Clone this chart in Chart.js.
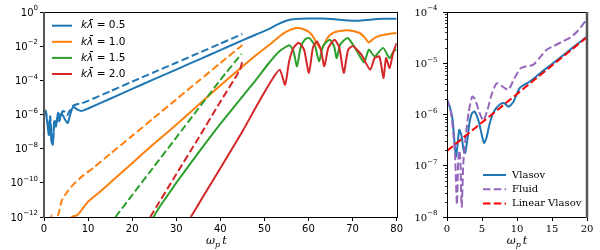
<!DOCTYPE html>
<html lang="en">
<head>
<meta charset="utf-8">
<title>Perturbation growth, Vlasov vs fluid</title>
<script src="https://cdn.jsdelivr.net/npm/chart.js"></script>
<style>
    html, body { margin: 0; padding: 0; background: #fff; }
    #wrap { position: relative; width: 600px; height: 250px; }
    #leftChart { position: absolute; left: 0; top: 0; }
    #rightChart { position: absolute; left: 400px; top: 0; }
</style>
</head>
<body>
<div id="wrap">
    <canvas id="leftChart" width="405" height="250"></canvas>
    <canvas id="rightChart" width="200" height="250"></canvas>
</div>

<script>
// ---- left panel data (values are log10 of the amplitude) ----
// k*lambda = 0.5, simulation (solid) and linear theory (dashed)
const tK05 = [0, 0.4, 0.8, 1.1, 1.4, 1.7, 2.0, 2.3, 2.7, 3.1, 3.5, 3.9, 4.4, 4.9, 5.4, 6.0, 6.6, 7.5, 8.5, 10, 15, 20, 25, 30, 35, 40, 45, 48, 51, 53, 55.5, 57, 60, 63, 66, 68, 70, 72, 74, 77, 80];
const eK05 = [-5.72, -5.85, -6.6, -7.2, -6.3, -7.6, -7.77, -6.4, -6.7, -6.05, -6.4, -5.95, -6.1, -6.35, -6.5, -5.95, -5.55, -5.7, -5.8, -5.65, -5.08, -4.5, -3.93, -3.37, -2.8, -2.23, -1.66, -1.33, -1.0, -0.72, -0.47, -0.41, -0.38, -0.38, -0.43, -0.48, -0.51, -0.5, -0.45, -0.4, -0.39];
const tK05lin = [0, 0.4, 0.8, 1.1, 1.4, 1.7, 2.0, 2.4, 2.8, 3.2, 3.7, 4.2, 4.7, 5.2, 5.8, 6.5, 7.5, 8.5, 10, 15, 20, 25, 30, 35, 40, 45];
const eK05lin = [-5.72, -5.8, -6.4, -6.9, -6.1, -7.3, -7.67, -6.3, -6.5, -5.9, -6.2, -5.8, -5.85, -6.05, -5.8, -5.5, -5.4, -5.35, -5.2, -4.64, -4.08, -3.52, -2.97, -2.41, -1.85, -1.29];

// k*lambda = 1.0
const tK10 = [5.5, 6.5, 7.5, 8.5, 10, 12.5, 15, 20, 25, 30, 35, 40, 45, 48, 51, 53.4, 55, 57.2, 58.6, 60, 61, 62.9, 64.2, 65.5, 67.5, 69.3, 71.6, 72.8, 73.7, 74.8, 76.1, 78, 80];
const eK10 = [-12.2, -11.97, -11.9, -11.6, -11.1, -10.57, -10.0, -8.85, -7.7, -6.6, -5.45, -4.3, -3.2, -2.55, -1.95, -1.43, -1.15, -0.94, -0.98, -1.15, -1.43, -2.2, -1.55, -1.23, -1.1, -1.08, -1.23, -1.5, -1.78, -1.55, -1.39, -1.3, -1.23];
const tK10lin = [1.3, 1.8, 2.3, 2.8, 3.3, 4.1, 5.5, 7, 9, 11.3, 15, 20, 25, 30, 35, 40, 45];
const eK10lin = [-12.3, -11.9, -12.1, -12.3, -11.8, -11.0, -10.45, -10.0, -9.55, -9.1, -8.31, -7.25, -6.18, -5.12, -4.05, -2.99, -1.93];

// k*lambda = 1.5
const tK15 = [24.6, 26, 28, 30, 35, 40, 45, 48, 51, 53.4, 55.7, 56.6, 57.4, 58.2, 59.2, 60.2, 61.5, 62.4, 63.3, 64.8, 65.8, 66.4, 67.2, 68.9, 70.8, 72.6, 73.7, 75, 76.9, 78.4, 79.3, 80];
const eK15 = [-12.1, -11.5, -10.75, -10.0, -8.25, -6.55, -4.95, -4.0, -3.0, -2.3, -1.95, -2.3, -3.18, -2.1, -1.6, -1.52, -2.0, -2.9, -2.0, -1.62, -2.0, -2.7, -1.9, -1.52, -2.2, -2.95, -2.2, -2.6, -2.1, -2.7, -2.3, -2.2];
const tK15lin = [16.2, 20, 25, 30, 35, 40, 44.8];
const eK15lin = [-12.0, -10.72, -9.03, -7.35, -5.66, -3.98, -2.45];

// k*lambda = 2.0
const tK20 = [33.3, 36, 40, 45, 48, 50, 52, 53.5, 54.7, 55.6, 56.6, 57.8, 59, 60.1, 61, 61.9, 62.8, 63.6, 64.5, 65.9, 67, 68, 69, 70.1, 72, 74, 75, 76.1, 77, 77.6, 78.4, 79.2, 80];
const eK20 = [-12.0, -10.85, -9.15, -7.0, -5.6, -4.7, -3.85, -3.38, -4.26, -2.9, -2.1, -1.8, -2.2, -3.57, -2.1, -1.72, -2.2, -3.18, -2.1, -1.62, -2.1, -3.57, -2.2, -2.0, -2.5, -3.38, -2.7, -2.6, -3.86, -2.7, -3.28, -2.4, -1.82];
const tK20lin = [24.1, 30, 35, 40, 44.4, 45.1];
const eK20lin = [-12.0, -9.5, -7.4, -5.25, -3.4, -2.79];

// ---- right panel data ----
const tVlasov = [0, 0.4, 0.8, 1.05, 1.28, 1.5, 1.75, 2.05, 2.37, 2.6, 2.9, 3.2, 3.55, 3.9, 4.25, 4.6, 5.0, 5.3, 5.65, 6.0, 6.5, 7.0, 7.6, 8.2, 8.8, 9.5, 10.4, 11.8, 13, 14, 16, 18, 20];
const eVlasov = [-5.71, -5.85, -6.1, -6.5, -6.82, -6.6, -6.3, -6.4, -6.69, -6.75, -6.5, -6.17, -5.98, -5.94, -6.02, -6.17, -6.42, -6.56, -6.45, -6.23, -6.0, -5.88, -5.8, -5.78, -5.85, -5.75, -5.48, -5.36, -5.23, -5.12, -4.91, -4.69, -4.48];
const tFluid = [0, 0.5, 0.9, 1.15, 1.42, 1.6, 1.75, 1.9, 2.1, 2.35, 2.7, 3.1, 3.6, 4.0, 4.6, 5.2, 5.8, 6.4, 7.1, 7.9, 8.76, 9.6, 10.5, 11.3, 12.3, 13.2, 14.2, 15.3, 16.6, 17.6, 18.6, 20];
const eFluid = [-5.71, -5.9, -6.35, -6.8, -7.76, -6.9, -6.7, -6.85, -7.8, -6.9, -6.4, -5.95, -5.65, -5.7, -5.95, -6.12, -5.9, -5.6, -5.39, -5.45, -5.52, -5.3, -5.1, -5.06, -5.03, -4.9, -4.74, -4.66, -4.57, -4.5, -4.38, -4.14];
const tLinVlasov = [0, 20];
const eLinVlasov = [-6.71, -4.49];

// ---- axis ticks ----
const leftXTicks = [0, 10, 20, 30, 40, 50, 60, 70, 80];
const leftYExps = [0, -2, -4, -6, -8, -10, -12];
const rightXTicks = [0, 5, 10, 15, 20];
const rightYExps = [-4, -5, -6, -7, -8];

const DASH = [7.5, 3.3];
const SANS = 'DejaVu Sans';
const SERIF = 'DejaVu Serif';

function pts(ts, es) {
    return ts.map((t, i) => ({ x: t, y: Math.pow(10, es[i]) }));
}

function series(label, ts, es, color, dashed) {
    return {
        label: label,
        data: pts(ts, es),
        borderColor: color,
        backgroundColor: color,
        borderWidth: 2,
        borderDash: dashed ? DASH : [],
        pointRadius: 0,
        tension: 0.2,
        fill: false
    };
}

// later datasets on top, like matplotlib
function stack(list) {
    list.forEach((d, i) => { d.order = -i; });
    return list;
}

// frame of the axes, drawn by hand so each side can have its own colour
function spinesPlugin(leftStyle, rightStyle) {
    return {
        id: 'spines',
        afterDraw(chart) {
            const ctx = chart.ctx;
            const a = chart.chartArea;
            const L = Math.round(a.left), R = Math.round(a.right);
            const T = Math.round(a.top), B = Math.round(a.bottom);
            ctx.save();
            const seg = (x1, y1, x2, y2, c, w) => {
                ctx.strokeStyle = c; ctx.lineWidth = w;
                ctx.beginPath(); ctx.moveTo(x1, y1); ctx.lineTo(x2, y2); ctx.stroke();
            };
            seg(L, T + 0.5, R, T + 0.5, '#000', 1);
            seg(L, B + 0.5, R, B + 0.5, '#000', 1);
            const lo = leftStyle[1] === 1 ? 0.5 : 0;
            const ro = rightStyle[1] === 1 ? 0.5 : 0;
            seg(L + lo, T, L + lo, B + 1, leftStyle[0], leftStyle[1]);
            seg(R + ro, T, R + ro, B + 1, rightStyle[0], rightStyle[1]);
            ctx.restore();
        }
    };
}

// y tick labels as 10 with a raised exponent, placed on the scale's own ticks
function powLabelsPlugin(family, gap) {
    return {
        id: 'powLabels',
        afterDraw(chart) {
            const ctx = chart.ctx;
            const ys = chart.scales.y;
            const xr = chart.chartArea.left - gap;
            ctx.save();
            ctx.fillStyle = '#000';
            ctx.textBaseline = 'middle';
            ys.ticks.forEach(tk => {
                const e = Math.round(Math.log10(tk.value));
                const py = ys.getPixelForValue(tk.value);
                const ex = e < 0 ? '\u2212' + String(-e) : String(e);
                ctx.font = '7px ' + family;
                const we = ctx.measureText(ex).width;
                ctx.font = '10px ' + family;
                const wb = ctx.measureText('10').width;
                ctx.fillText('10', xr - we - wb, py + 1);
                ctx.font = '7px ' + family;
                ctx.fillText(ex, xr - we, py - 3.5);
            });
            ctx.restore();
        }
    };
}

// x axis title: omega_p t
function xTitlePlugin(y, shift) {
    return {
        id: 'xTitle',
        afterDraw(chart) {
            const ctx = chart.ctx;
            const a = chart.chartArea;
            const cx = (a.left + a.right) / 2 + shift;
            ctx.save();
            ctx.fillStyle = '#000';
            ctx.textBaseline = 'alphabetic';
            const big = 'italic 11px ' + SERIF;
            const small = 'italic 8px ' + SERIF;
            ctx.font = big; const w1 = ctx.measureText('\u03C9').width;
            ctx.font = small; const w2 = ctx.measureText('p').width;
            ctx.font = big; const w3 = ctx.measureText('t').width;
            const gap = 2;
            let x = cx - (w1 + w2 + gap + w3) / 2;
            ctx.font = big; ctx.fillText('\u03C9', x, y); x += w1;
            ctx.font = small; ctx.fillText('p', x, y + 2.5); x += w2 + gap;
            ctx.font = big; ctx.fillText('t', x, y);
            ctx.restore();
        }
    };
}

// legend inside the plot area
function legendPlugin(x0, y0, step, len, gap, drawText) {
    return {
        id: 'inlineLegend',
        afterDraw(chart) {
            const ctx = chart.ctx;
            const items = chart.data.datasets.filter(d => d.label);
            ctx.save();
            items.forEach((d, i) => {
                const y = y0 + i * step;
                ctx.strokeStyle = d.borderColor;
                ctx.lineWidth = 2;
                ctx.setLineDash(d.borderDash || []);
                ctx.beginPath(); ctx.moveTo(x0, y); ctx.lineTo(x0 + len, y); ctx.stroke();
                ctx.setLineDash([]);
                drawText(ctx, d.label, x0 + len + gap, y);
            });
            ctx.restore();
        }
    };
}

function drawKLabel(ctx, label, x, y) {
    // "k lambda-bar" in italic, the rest upright
    ctx.fillStyle = '#000';
    ctx.textBaseline = 'middle';
    const head = label.slice(0, 3);
    const tail = label.slice(3);
    ctx.font = 'italic 10.5px ' + SANS;
    ctx.fillText(head, x, y);
    const w = ctx.measureText(head).width;
    ctx.font = '10.5px ' + SANS;
    ctx.fillText(tail, x + w, y);
}

function drawSerifLabel(ctx, label, x, y) {
    ctx.fillStyle = '#000';
    ctx.textBaseline = 'middle';
    ctx.font = '10px ' + SERIF;
    ctx.fillText(label, x, y);
}

// minor log ticks on the left spine of the right panel
const minorTicksPlugin = {
    id: 'minorTicks',
    afterDraw(chart) {
        const ctx = chart.ctx;
        const ys = chart.scales.y;
        const L = Math.round(chart.chartArea.left);
        ctx.save();
        ctx.strokeStyle = '#000';
        ctx.lineWidth = 0.8;
        for (let e = rightYExps[rightYExps.length - 1]; e < rightYExps[0]; e++) {
            for (let m = 2; m <= 9; m++) {
                const py = Math.round(ys.getPixelForValue(m * Math.pow(10, e))) + 0.5;
                ctx.beginPath(); ctx.moveTo(L - 2, py); ctx.lineTo(L, py); ctx.stroke();
            }
        }
        ctx.restore();
    }
};

function axisOpts(fontFamily, tickPad) {
    return {
        grid: { display: true, drawOnChartArea: false, drawTicks: true, tickLength: 4, tickColor: '#000', tickWidth: 1 },
        border: { display: false },
        ticks: { color: '#000', font: { family: fontFamily, size: 10 }, padding: tickPad, autoSkip: false, maxRotation: 0 }
    };
}

// ---------------- left chart ----------------
const leftX = axisOpts(SANS, 2);
leftX.type = 'linear'; leftX.min = 0; leftX.max = 80;
leftX.afterBuildTicks = s => { s.ticks = leftXTicks.map(v => ({ value: v })); };
leftX.ticks.callback = v => String(v);
leftX.afterFit = s => { s.height = 33; };

const leftY = axisOpts(SANS, 3);
leftY.type = 'logarithmic'; leftY.min = 1e-12; leftY.max = 1;
leftY.afterBuildTicks = s => { s.ticks = leftYExps.map(e => ({ value: Math.pow(10, e) })); };
leftY.ticks.color = 'rgba(0,0,0,0)';   // labels drawn by powLabelsPlugin
leftY.afterFit = s => { s.width = 44; };

new Chart(document.getElementById('leftChart'), {
    type: 'line',
    data: {
        datasets: stack([
            series('k\u03BB\u0304 = 0.5', tK05, eK05, '#1f77b4', false),
            series('', tK05lin, eK05lin, '#1f77b4', true),
            series('k\u03BB\u0304 = 1.0', tK10, eK10, '#ff7f0e', false),
            series('', tK10lin, eK10lin, '#ff7f0e', true),
            series('k\u03BB\u0304 = 1.5', tK15, eK15, '#2ca02c', false),
            series('', tK15lin, eK15lin, '#2ca02c', true),
            series('k\u03BB\u0304 = 2.0', tK20, eK20, '#d62728', false),
            series('', tK20lin, eK20lin, '#d62728', true)
        ])
    },
    options: {
        responsive: false,
        animation: false,
        layout: { padding: { left: 0, right: 8, top: 12, bottom: 0 } },
        plugins: { legend: { display: false }, tooltip: { enabled: false } },
        scales: { x: leftX, y: leftY }
    },
    plugins: [spinesPlugin(['#555', 2], ['#000', 1]), powLabelsPlugin(SANS, 6), xTitlePlugin(244, -4),
              legendPlugin(52, 25.7, 16.1, 20, 9, drawKLabel)]
});

// ---------------- right chart ----------------
const rightX = axisOpts(SERIF, 2);
rightX.type = 'linear'; rightX.min = 0; rightX.max = 20;
rightX.afterBuildTicks = s => { s.ticks = rightXTicks.map(v => ({ value: v })); };
rightX.ticks.callback = v => String(v);
rightX.afterFit = s => { s.height = 33; };

const rightY = axisOpts(SERIF, 6);
rightY.type = 'logarithmic'; rightY.min = 1e-8; rightY.max = 1e-4;
rightY.afterBuildTicks = s => { s.ticks = rightYExps.map(e => ({ value: Math.pow(10, e) })); };
rightY.ticks.color = 'rgba(0,0,0,0)';
rightY.afterFit = s => { s.width = 47; };

new Chart(document.getElementById('rightChart'), {
    type: 'line',
    data: {
        datasets: stack([
            series('Vlasov', tVlasov, eVlasov, '#1f77b4', false),
            series('Fluid', tFluid, eFluid, '#9467bd', true),
            series('Linear Vlasov', tLinVlasov, eLinVlasov, '#ff0000', true)
        ])
    },
    options: {
        responsive: false,
        animation: false,
        layout: { padding: { left: 0, right: 13, top: 12, bottom: 0 } },
        plugins: { legend: { display: false }, tooltip: { enabled: false } },
        scales: { x: rightX, y: rightY }
    },
    plugins: [spinesPlugin(['#000', 1], ['#555', 2.5]), minorTicksPlugin, powLabelsPlugin(SERIF, 9.5),
              xTitlePlugin(244, 0), legendPlugin(83, 175, 14.2, 23, 6, drawSerifLabel)]
});
</script>
</body>
</html>
